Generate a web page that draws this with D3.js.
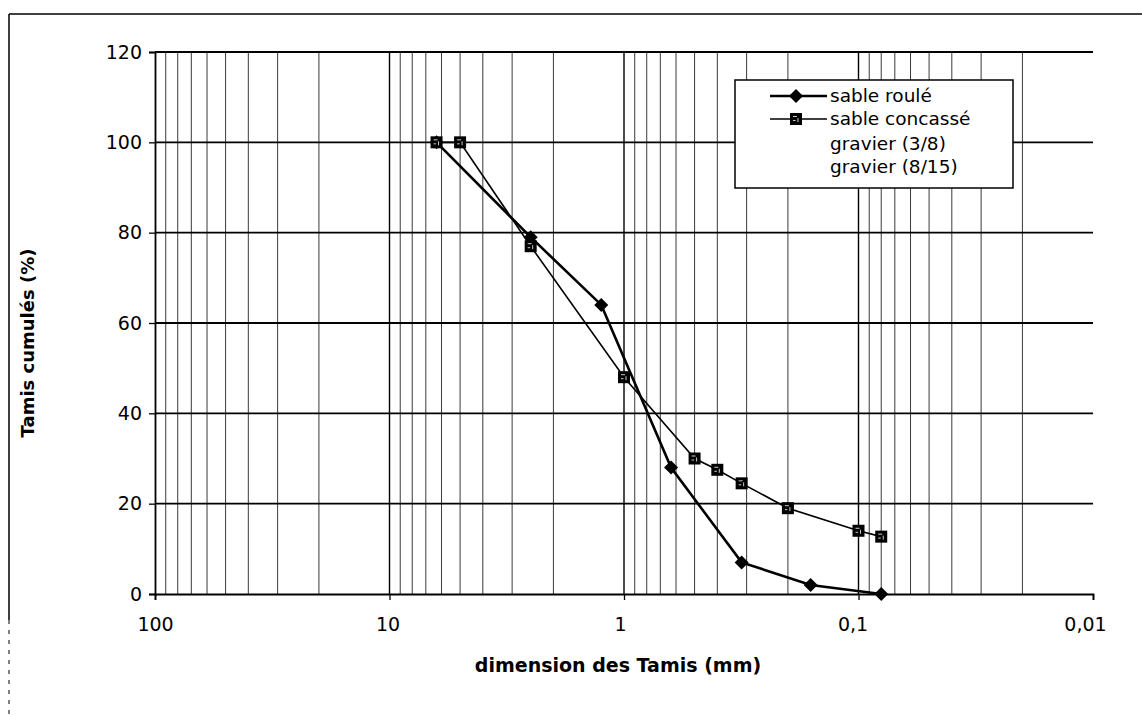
<!DOCTYPE html>
<html>
<head>
    <meta charset="UTF-8">
    <title>Courbes granulométriques</title>
    <script src="https://d3js.org/d3.v7.min.js"></script>
    <style>
        body { margin: 0; background: #fff; }
        text { font-family: "DejaVu Sans", "Liberation Sans", sans-serif; fill: #000; }
    </style>
</head>
<body>
    <div id="my_dataviz"></div>

    <script type="text/javascript">

        // sieve sizes (mm) and cumulative passing (%)
        let roule_sizes = [6.3, 2.5, 1.25, 0.63, 0.315, 0.16, 0.08];
        let roule_values = [100, 79, 64, 28, 7, 2, 0];

        let concasse_sizes = [6.3, 5, 2.5, 1, 0.5, 0.4, 0.315, 0.2, 0.1, 0.08];
        let concasse_values = [100, 100, 77, 48, 30, 27.5, 24.5, 19, 14, 12.7];

        let legend_labels = ["sable roulé", "sable concassé", "gravier (3/8)", "gravier (8/15)"];
        let x_ticks = [100, 10, 1, 0.1, 0.01];
        let y_ticks = [0, 20, 40, 60, 80, 100, 120];

        // plot area
        let margin = { left: 155, right: 1093, top: 52, bottom: 594 };

        let svg = d3.select("#my_dataviz")
            .append("svg")
            .attr("width", 1142)
            .attr("height", 715);

        svg.append("rect").attr("width", 1142).attr("height", 715).attr("fill", "#fff");

        // outer frame (top and left only survive in the scan)
        svg.append("line").attr("x1", 9).attr("x2", 1142).attr("y1", 14).attr("y2", 14)
            .attr("stroke", "#000").attr("stroke-width", 1.5);
        svg.append("line").attr("x1", 9).attr("x2", 9).attr("y1", 14).attr("y2", 620)
            .attr("stroke", "#000").attr("stroke-width", 1.5);
        svg.append("line").attr("x1", 9).attr("x2", 9).attr("y1", 620).attr("y2", 715)
            .attr("stroke", "#000").attr("stroke-width", 1).attr("stroke-dasharray", "4,6");

        let x = d3.scaleLog().domain([100, 0.01]).range([margin.left, margin.right]);
        let y = d3.scaleLinear().domain([0, 120]).range([margin.bottom, margin.top]);

        let fr = d3.formatLocale({ decimal: ",", thousands: " ", grouping: [3], currency: ["", ""] });
        let fmt = function (d) { return fr.format("~g")(d); };

        // vertical grid (log minor lines)
        let grid = svg.append("g");
        grid.selectAll("line.v")
            .data(x.ticks().filter(d => d < 100 && d > 0.01))
            .enter()
            .append("line")
            .attr("x1", d => x(d)).attr("x2", d => x(d))
            .attr("y1", margin.top).attr("y2", margin.bottom)
            .attr("stroke", d => x_ticks.includes(d) ? "#000" : "#3a3a3a")
            .attr("stroke-width", d => x_ticks.includes(d) ? 1.4 : 1);

        // horizontal grid
        grid.selectAll("line.h")
            .data(y_ticks.filter(d => d > 0))
            .enter()
            .append("line")
            .attr("x1", margin.left).attr("x2", margin.right)
            .attr("y1", d => y(d)).attr("y2", d => y(d))
            .attr("stroke", "#000").attr("stroke-width", 1.8);

        // axes
        let xAxis = svg.append("g")
            .attr("transform", "translate(0," + margin.bottom + ")")
            .call(d3.axisBottom(x).tickValues(x_ticks).tickFormat(fmt).tickSize(6).tickPadding(18));
        let yAxis = svg.append("g")
            .attr("transform", "translate(" + margin.left + ",0)")
            .call(d3.axisLeft(y).tickValues(y_ticks).tickSize(6).tickPadding(7));

        [xAxis, yAxis].forEach(function (a) {
            a.select(".domain").attr("stroke", "#000").attr("stroke-width", 1.8);
            a.selectAll(".tick line").attr("stroke", "#000").attr("stroke-width", 1.3);
            a.selectAll("text").attr("font-size", 19).attr("font-family", "DejaVu Sans").attr("fill", "#000");
        });
        // the scanned labels sit a little left of their ticks
        xAxis.selectAll(".tick text").attr("dx", (d, i) => -2 * i);

        // axis titles
        svg.append("text")
            .attr("x", (margin.left + margin.right) / 2 - 6)
            .attr("y", 672)
            .attr("text-anchor", "middle")
            .attr("font-size", 19)
            .attr("font-weight", "bold")
            .text("dimension des Tamis (mm)");

        svg.append("text")
            .attr("transform", "translate(34,343) rotate(-90)")
            .attr("text-anchor", "middle")
            .attr("font-size", 18)
            .attr("font-weight", "bold")
            .text("Tamis cumulés (%)");

        // series
        let roule = roule_sizes.map((s, i) => ({ s: s, v: roule_values[i] }));
        let concasse = concasse_sizes.map((s, i) => ({ s: s, v: concasse_values[i] }));

        let line = d3.line().x(d => x(d.s)).y(d => y(d.v));
        let diamond = "M0,-7L7,0L0,7L-7,0Z";

        function drawDiamond(g) {
            g.append("path").attr("d", diamond).attr("fill", "#000");
        }
        function drawSquare(g) {
            g.append("rect").attr("x", -6).attr("y", -6).attr("width", 12).attr("height", 12).attr("fill", "#000");
            // a few light specks, as in the photocopy
            g.append("path").attr("d", "M-3,-2.5H1M-3,1.5H-0.5M2,-1V3")
                .attr("stroke", "#fff").attr("stroke-width", 0.8).attr("fill", "none");
        }

        svg.append("path").datum(roule)
            .attr("d", line).attr("fill", "none").attr("stroke", "#000").attr("stroke-width", 2.6);
        svg.selectAll("g.rp").data(roule).enter().append("g")
            .attr("transform", d => "translate(" + x(d.s) + "," + y(d.v) + ")")
            .each(function () { drawDiamond(d3.select(this)); });

        svg.append("path").datum(concasse)
            .attr("d", line).attr("fill", "none").attr("stroke", "#000").attr("stroke-width", 1.6);
        svg.selectAll("g.cp").data(concasse).enter().append("g")
            .attr("transform", d => "translate(" + x(d.s) + "," + y(d.v) + ")")
            .each(function () { drawSquare(d3.select(this)); });

        // legend
        let lg = svg.append("g");
        lg.append("rect").attr("x", 735).attr("y", 80).attr("width", 278).attr("height", 108)
            .attr("fill", "#fff").attr("stroke", "#000").attr("stroke-width", 1.5);
        let rows = [96, 119, 144, 167];
        legend_labels.forEach(function (lab, i) {
            if (i < 2) {
                lg.append("line").attr("x1", 770).attr("x2", 827).attr("y1", rows[i]).attr("y2", rows[i])
                    .attr("stroke", "#000").attr("stroke-width", i == 0 ? 2.6 : 1.6);
                let m = lg.append("g").attr("transform", "translate(796," + rows[i] + ")");
                if (i == 0) drawDiamond(m); else drawSquare(m);
            }
            lg.append("text").attr("x", 830).attr("y", rows[i]).attr("dy", "0.35em")
                .attr("font-size", 18.5).text(lab);
        });

    </script>
</body>
</html>
